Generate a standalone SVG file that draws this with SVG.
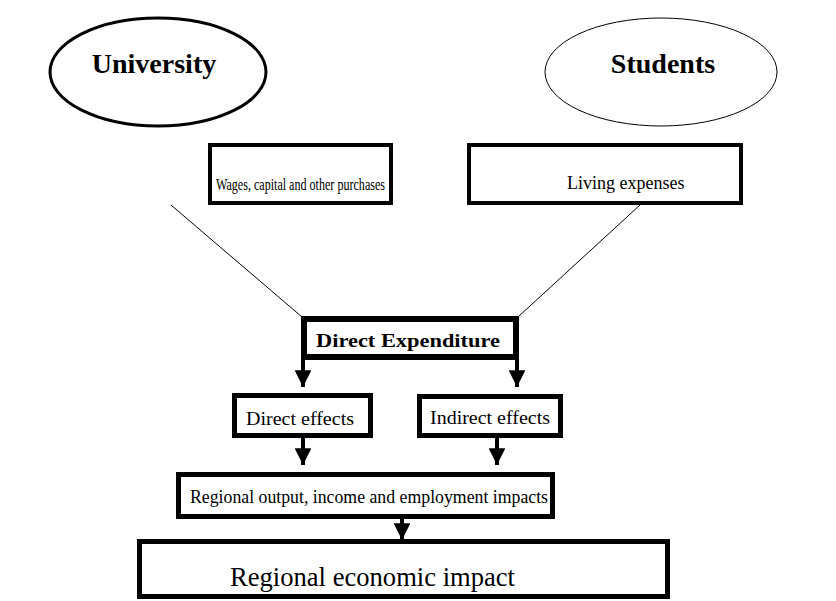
<svg xmlns="http://www.w3.org/2000/svg" width="836" height="601" viewBox="0 0 836 601">
<defs>
<style>
.t{font-family:"Liberation Serif","Times New Roman",serif;fill:#000}
.b{font-weight:bold}
.box{fill:#fff;stroke:#000}
.ln{stroke:#000;fill:none}
</style>
<marker id="ah" viewBox="0 0 10 10" refX="10" refY="5" markerWidth="4.2" markerHeight="4.2" markerUnits="strokeWidth" orient="auto">
<path d="M0,0 L10,5 L0,10 Z" fill="#000"/>
</marker>
</defs>
<rect width="836" height="601" fill="#fff"/>
<g id="connectors">
<line class="ln" x1="171" y1="205" x2="302" y2="317" stroke-width="1"/>
<line class="ln" x1="640" y1="205" x2="518" y2="317" stroke-width="1"/>
<line class="ln" x1="303" y1="360" x2="303" y2="387" stroke-width="4" marker-end="url(#ah)"/>
<line class="ln" x1="517" y1="360" x2="517" y2="387" stroke-width="4" marker-end="url(#ah)"/>
<line class="ln" x1="303" y1="438" x2="303" y2="465" stroke-width="4" marker-end="url(#ah)"/>
<line class="ln" x1="497" y1="438" x2="497" y2="465" stroke-width="4" marker-end="url(#ah)"/>
<line class="ln" x1="402" y1="519" x2="402" y2="540" stroke-width="4" marker-end="url(#ah)"/>
</g>
<g id="university">
<ellipse class="box" cx="158" cy="72" rx="108" ry="54" stroke-width="3"/>
<text class="t b" x="154" y="73" font-size="28" text-anchor="middle">University</text>
</g>
<g id="students">
<ellipse class="box" cx="661" cy="72" rx="116" ry="54" stroke-width="1"/>
<text class="t b" x="663" y="73" font-size="28" text-anchor="middle">Students</text>
</g>
<g id="wages">
<rect class="box" x="210" y="145" width="181" height="58" stroke-width="4"/>
<text class="t" x="216" y="190" font-size="16.5" textLength="169" lengthAdjust="spacingAndGlyphs">Wages, capital and other purchases</text>
</g>
<g id="living">
<rect class="box" x="469" y="145" width="272" height="58" stroke-width="4"/>
<text class="t" x="567" y="189" font-size="18">Living expenses</text>
</g>
<g id="direct-expenditure">
<rect class="box" x="304" y="319" width="212" height="38" stroke-width="6"/>
<text class="t b" x="316" y="347" font-size="18" textLength="184" lengthAdjust="spacingAndGlyphs">Direct Expenditure</text>
</g>
<g id="direct-effects">
<rect class="box" x="234.5" y="395.5" width="136" height="40" stroke-width="5"/>
<text class="t" x="246" y="425" font-size="19" textLength="108" lengthAdjust="spacingAndGlyphs">Direct effects</text>
</g>
<g id="indirect-effects">
<rect class="box" x="419.5" y="396.5" width="141" height="39" stroke-width="5"/>
<text class="t" x="430" y="424" font-size="19" textLength="120" lengthAdjust="spacingAndGlyphs">Indirect effects</text>
</g>
<g id="regional-output">
<rect class="box" x="178.5" y="474.5" width="374" height="42" stroke-width="5"/>
<text class="t" x="190" y="503" font-size="18" textLength="358" lengthAdjust="spacingAndGlyphs">Regional output, income and employment impacts</text>
</g>
<g id="regional-economic-impact">
<rect class="box" x="139.5" y="541.5" width="528" height="55" stroke-width="5"/>
<text class="t" x="230" y="586" font-size="27" textLength="285" lengthAdjust="spacingAndGlyphs">Regional economic impact</text>
</g>
</svg>
